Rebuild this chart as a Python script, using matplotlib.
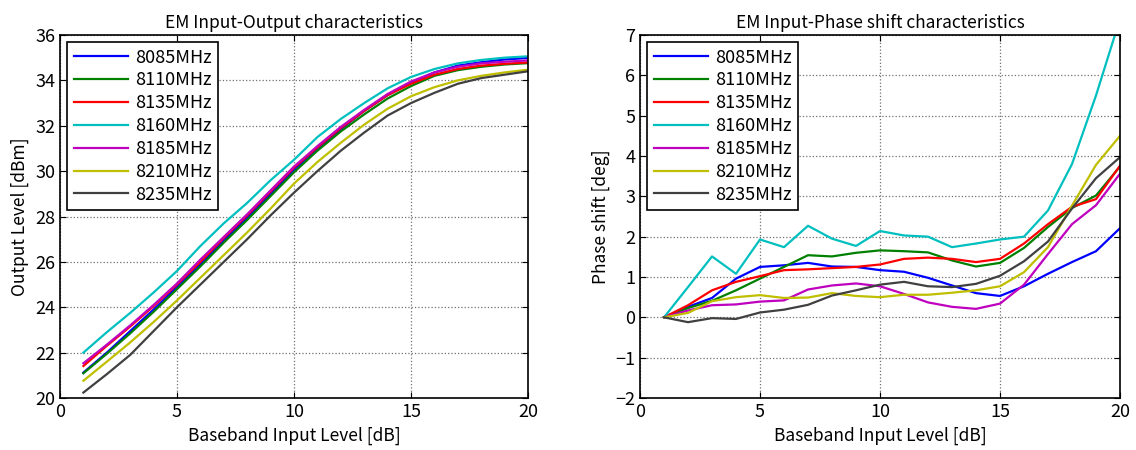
import numpy as np
import matplotlib.pyplot as plt

plt.rcParams['font.family'] = ['Noto Sans CJK JP', 'DejaVu Sans']

# 入力レベル [dB]
x = list(range(1, 21))
labels = ['8085MHz', '8110MHz', '8135MHz', '8160MHz', '8185MHz', '8210MHz', '8235MHz']
colors = ['#0000FF', '#008000', '#FF0000', '#00BFBF', '#BF00BF', '#BFBF00', '#404040']

# 出力レベル [dBm]
out_8085 = [21.12, 22.0, 22.95, 23.9, 24.9, 25.9, 26.95, 27.95, 29.0, 30.06,
            31.0, 31.85, 32.65, 33.35, 33.9, 34.35, 34.65, 34.8, 34.92, 34.99]
out_8110 = [21.09, 21.95, 22.85, 23.8, 24.8, 25.8, 26.85, 27.85, 28.9, 29.95,
            30.9, 31.75, 32.5, 33.2, 33.75, 34.2, 34.45, 34.6, 34.7, 34.76]
out_8135 = [21.41, 22.3, 23.15, 24.05, 25.0, 26.0, 27.05, 28.05, 29.1, 30.15,
            31.05, 31.9, 32.65, 33.35, 33.85, 34.25, 34.5, 34.65, 34.73, 34.79]
out_8160 = [22.0, 22.9, 23.75, 24.65, 25.6, 26.7, 27.7, 28.6, 29.6, 30.5,
            31.5, 32.3, 33.0, 33.65, 34.15, 34.5, 34.75, 34.9, 35.0, 35.06]
out_8185 = [21.53, 22.35, 23.2, 24.1, 25.05, 26.1, 27.1, 28.1, 29.15, 30.2,
            31.1, 31.95, 32.7, 33.4, 33.95, 34.35, 34.6, 34.75, 34.82, 34.88]
out_8210 = [20.76, 21.6, 22.45, 23.35, 24.3, 25.3, 26.3, 27.3, 28.35, 29.45,
            30.4, 31.25, 32.05, 32.75, 33.3, 33.7, 34.0, 34.2, 34.35, 34.47]
out_8235 = [20.24, 21.05, 21.9, 22.95, 24.0, 25.0, 26.0, 27.0, 28.05, 29.05,
            30.0, 30.9, 31.7, 32.45, 33.0, 33.45, 33.85, 34.1, 34.25, 34.4]

# 位相変化 [deg]
ph_8085 = [0, 0.26, 0.48, 0.96, 1.25, 1.29, 1.35, 1.26, 1.25, 1.17,
           1.13, 0.98, 0.79, 0.6, 0.53, 0.77, 1.08, 1.37, 1.64, 2.21]
ph_8110 = [0, 0.23, 0.41, 0.67, 0.96, 1.25, 1.54, 1.51, 1.6, 1.66,
           1.64, 1.61, 1.41, 1.26, 1.35, 1.72, 2.24, 2.71, 3.02, 3.74]
ph_8135 = [0, 0.3, 0.67, 0.88, 1.02, 1.17, 1.19, 1.22, 1.25, 1.31,
           1.45, 1.48, 1.45, 1.37, 1.45, 1.83, 2.31, 2.74, 2.93, 3.76]
ph_8160 = [0, 0.75, 1.51, 1.08, 1.93, 1.74, 2.27, 1.95, 1.77, 2.14,
           2.03, 2.0, 1.74, 1.83, 1.93, 2.0, 2.65, 3.8, 5.5, 7.4]
ph_8185 = [0, 0.17, 0.3, 0.32, 0.39, 0.42, 0.69, 0.79, 0.84, 0.77,
           0.58, 0.37, 0.26, 0.21, 0.34, 0.81, 1.57, 2.31, 2.78, 3.56]
ph_8210 = [0, 0.11, 0.4, 0.5, 0.55, 0.48, 0.49, 0.6, 0.53, 0.5,
           0.56, 0.56, 0.61, 0.67, 0.77, 1.12, 1.74, 2.77, 3.78, 4.5]
ph_8235 = [0, -0.12, -0.02, -0.04, 0.12, 0.19, 0.31, 0.54, 0.67, 0.81,
           0.88, 0.77, 0.75, 0.83, 1.03, 1.39, 1.88, 2.7, 3.45, 3.97]

outs = [out_8085, out_8110, out_8135, out_8160, out_8185, out_8210, out_8235]
phs = [ph_8085, ph_8110, ph_8135, ph_8160, ph_8185, ph_8210, ph_8235]

fig = plt.figure(figsize=(11.36, 4.5), dpi=100)
ax1 = fig.add_axes([60/1136, 52/450, 468/1136, 363/450])
ax2 = fig.add_axes([640/1136, 52/450, 480/1136, 363/450])


def style(ax):
    ax.grid(True, color='#707070', linestyle=':', linewidth=0.9)
    ax.tick_params(direction='in', top=True, right=True, labelsize=13, length=4)
    for s in ax.spines.values():
        s.set_linewidth(1.2)
    ax.set_xlim(0, 20)
    ax.set_xticks([0, 5, 10, 15, 20])
    ax.set_xlabel('Baseband Input Level [dB]', fontsize=12.5)
    leg = ax.legend(loc='upper left', fontsize=13, fancybox=False, framealpha=1,
                    edgecolor='black', borderaxespad=0.4, handlelength=3.0,
                    labelspacing=0.27, borderpad=0.35, handletextpad=0.4)
    leg.get_frame().set_linewidth(1.2)


for vals, c, lab in zip(outs, colors, labels):
    ax1.plot(x, vals, color=c, lw=1.6, label=lab)
ax1.set_ylim(20, 36)
ax1.set_yticks(np.arange(20, 37, 2))
ax1.set_ylabel('Output Level [dBm]', fontsize=12.5)
ax1.set_title('EM Input-Output characteristics', fontsize=12.5, pad=5)
style(ax1)

for vals, c, lab in zip(phs, colors, labels):
    ax2.plot(x, vals, color=c, lw=1.6, label=lab)
ax2.set_ylim(-2, 7)
ax2.set_yticks(np.arange(-2, 8, 1))
ax2.set_ylabel('Phase shift [deg]', fontsize=12.5)
ax2.set_title('EM Input-Phase shift characteristics', fontsize=12.5, pad=5)
style(ax2)

fig.savefig('out.png', dpi=100)
